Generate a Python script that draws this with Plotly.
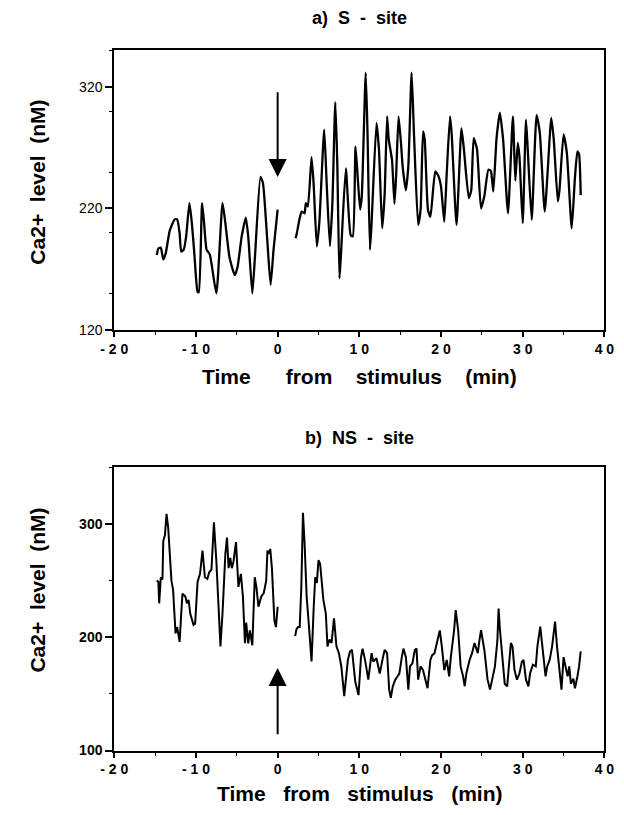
import plotly.graph_objects as go

# ---------------- data ----------------
# Panel a) S - site, before stimulus
a_pre_t = [-14.8, -14.6, -14.3, -14.0, -13.7, -13.2, -12.6, -12.3, -12.0, -11.8, -11.5, -11.2,
           -10.8, -10.5, -10.2, -9.8, -9.65, -9.25, -9.0, -8.7, -8.3, -7.5, -6.75, -6.4, -5.9,
           -5.25, -4.9, -4.4, -3.9, -3.6, -3.1, -2.75, -2.1, -1.8, -1.3, -0.86, -0.5, 0.0]
a_pre_ca = [181.7, 187, 187.6, 178, 183, 202, 211, 211, 199.6, 184.5, 186, 197,
            224.4, 208, 183, 151.4, 151, 224.4, 208, 186, 182, 150, 224.4, 208, 180,
            165, 172, 197, 212.5, 197, 150, 183, 246, 241, 197, 157, 186, 219]
# Panel a) S - site, after stimulus
a_post_t = [2.2, 2.35, 2.7, 2.95, 3.3, 3.45, 3.7, 4.15, 4.4, 4.8, 5.1, 5.7, 6.0, 6.4, 6.7,
            7.06, 7.3, 7.57, 7.76, 8.35, 8.94, 9.2, 9.53, 9.8, 10.1, 10.3, 10.78, 11.0, 11.3,
            11.5, 12.1, 12.4, 12.8, 13.1, 13.4, 13.6, 14.0, 14.3, 14.5, 14.8, 15.1, 15.3, 15.7,
            16.0, 16.4, 16.7, 17.2, 17.5, 17.8, 18.0, 18.4, 18.7, 19.3, 19.7, 20.0, 20.4, 20.7,
            21.1, 21.3, 21.9, 22.5, 22.8, 23.4, 23.7, 24.0, 24.4, 24.9, 25.3, 25.8, 26.1, 26.4,
            26.8, 27.2, 27.6, 28.2, 28.8, 29.1, 29.4, 29.6, 30.0, 30.4, 30.6, 31.1, 31.7, 32.1,
            32.7, 33.5, 33.8, 34.3, 34.5, 35.0, 35.4, 36.0, 36.4, 36.7, 36.9, 37.1]
a_post_ca = [195.5, 199.6, 212, 217.5, 216, 224.4, 221.6, 262.4, 241, 188.6, 208, 285, 241, 189, 224,
             307.6, 257.6, 162.4, 183, 253, 198, 197, 271, 246, 219, 230, 332, 283, 186,
             208, 290.5, 269, 203.7, 232, 296, 277, 260, 224, 246, 296, 274, 255, 235,
             255, 332, 280, 206.5, 219, 283.6, 277, 219, 213, 250.6, 246.5, 238, 209, 249,
             296, 282, 206.5, 286, 269, 228.5, 235, 278, 269, 220, 230, 252, 251, 234,
             278, 299, 277, 216, 296, 243, 274, 263, 208, 293, 271, 210.6, 297, 282,
             217.5, 294.6, 277, 225.8, 235, 281, 266, 203.7, 246, 267, 264.6, 231]

# Panel b) NS - site, before stimulus
b_pre_t = [-14.8, -14.6, -14.5, -14.3, -14.1, -14.0, -13.8, -13.6, -13.4, -13.0, -12.8, -12.5,
           -12.3, -12.0, -11.8, -11.65, -11.3, -11.1, -10.9, -10.7, -10.3, -10.1, -9.8, -9.5,
           -9.2, -8.9, -8.6, -8.4, -8.1, -7.8, -7.5, -7.0, -6.75, -6.4, -6.2, -6.0, -5.8, -5.6,
           -5.4, -5.1, -4.8, -4.5, -4.25, -4.0, -3.85, -3.6, -3.4, -3.1, -2.8, -2.6, -2.35,
           -2.0, -1.7, -1.4, -1.25, -1.1, -0.9, -0.7, -0.4, -0.2, 0.0]
b_pre_ca = [250, 249, 230, 253, 251, 285, 290, 309, 297, 250, 242, 203.5,
            209, 196, 221, 238.6, 236, 230, 233, 221, 211, 212, 249, 256,
            276.6, 253, 251.5, 257, 260, 301.5, 267, 192, 221, 273.7, 288, 261, 270, 261,
            267, 284, 244.5, 256, 236, 194.7, 213, 194.7, 206, 193, 253, 244.5, 227,
            236, 239, 250, 276.6, 273.7, 278, 261, 215, 209, 227]
# Panel b) NS - site, after stimulus
b_post_t = [2.15, 2.3, 2.5, 2.7, 2.9, 3.1, 3.3, 3.55, 3.8, 4.15, 4.4, 4.6, 4.8, 5.0, 5.2, 5.6,
            5.9, 6.1, 6.35, 6.6, 6.9, 7.2, 7.5, 7.8, 8.15, 8.6, 8.86, 9.1, 9.5, 9.9, 10.2,
            10.4, 10.7, 11.1, 11.5, 11.7, 12.1, 12.5, 12.9, 13.1, 13.4, 13.65, 13.85, 14.1,
            14.4, 14.9, 15.2, 15.4, 15.7, 16.0, 16.2, 16.5, 16.8, 17.0, 17.2, 17.5, 17.8,
            18.0, 18.35, 18.7, 18.9, 19.2, 19.5, 19.85, 20.1, 20.4, 20.7, 21.0, 21.2, 21.6,
            21.8, 22.1, 22.4, 22.7, 22.9, 23.1, 23.5, 23.8, 24.1, 24.5, 24.7, 24.9, 25.3,
            25.7, 26.0, 26.3, 26.6, 26.9, 27.05, 27.2, 27.5, 27.8, 28.1, 28.4, 28.55, 28.75,
            29.0, 29.3, 29.6, 29.9, 30.1, 30.4, 30.7, 30.9, 31.25, 31.6, 31.8, 32.15, 32.5,
            32.8, 33.0, 33.3, 33.6, 33.96, 34.2, 34.5, 34.75, 35.0, 35.2, 35.5, 35.7, 35.9,
            36.2, 36.4, 36.7, 36.9, 37.1]
b_post_ca = [201, 207, 209, 209, 244.5, 310, 283, 236, 213, 178.7, 224, 253, 248, 268, 265, 233,
             221, 192, 198, 195, 216.7, 192, 186, 174, 148, 180, 187.4, 189, 161, 149, 182,
             190, 180, 162.6, 186, 178.5, 181.5, 168, 182.5, 188.9, 186, 153.8, 146.5, 156.7,
             162.6, 168, 182.5, 190, 182.5, 153.8, 174.3, 177, 189, 190, 162.6, 174.3, 171,
             165.5, 155, 180, 184, 186, 195, 206, 192, 171, 180, 165.5, 182.5, 206,
             224, 206, 174.3, 165.5, 156.8, 168, 180, 186, 195, 186, 197, 206.4, 189,
             162.6, 153.8, 165.5, 174.3, 197, 225.4, 208, 180, 159, 156.7, 180, 195, 192,
             171, 162.6, 168, 178.5, 180, 162.6, 156.7, 168, 175.8, 174.3, 192, 209.4, 186,
             165.5, 174.3, 180, 192, 213.8, 192, 171, 153.8, 182.5, 174.3, 165.5, 174.3, 159,
             163.5, 155, 165.5, 174.3, 187.5]

x_tickvals = [-20, -10, 0, 10, 20, 30, 40]
x_ticktext = ["- 2 0", "- 1 0", "0", "1 0", "2 0", "3 0", "4 0"]
a_yticks = [120, 220, 320]
b_yticks = [100, 200, 300]

# stimulus arrows (time, tail level, head level)
a_arrow = (0, 317, 246)
b_arrow = (0, 113, 173)

# ---------------- figure ----------------
FONT = "Liberation Sans, Arial, Helvetica, sans-serif"
PAGE_MARGIN = 8          # default body margin of the html page
W, H = 624 - PAGE_MARGIN, 815 - PAGE_MARGIN

def px_x(p):             # screen pixel -> paper fraction
    return (p - PAGE_MARGIN) / W

def px_y(p):
    return 1 - (p - PAGE_MARGIN) / H

fig = go.Figure()
line_a = dict(color="black", width=2.3, shape="spline", smoothing=0.5)
line_b = dict(color="black", width=2.0)
fig.add_trace(go.Scatter(x=a_pre_t, y=a_pre_ca, mode="lines", line=line_a, xaxis="x", yaxis="y", showlegend=False))
fig.add_trace(go.Scatter(x=a_post_t, y=a_post_ca, mode="lines", line=line_a, xaxis="x", yaxis="y", showlegend=False))
fig.add_trace(go.Scatter(x=b_pre_t, y=b_pre_ca, mode="lines", line=line_b, xaxis="x2", yaxis="y2", showlegend=False))
fig.add_trace(go.Scatter(x=b_post_t, y=b_post_ca, mode="lines", line=line_b, xaxis="x2", yaxis="y2", showlegend=False))

xdom = [px_x(104), px_x(614)]
common_x = dict(range=[-20, 40], tickvals=x_tickvals, ticktext=x_ticktext, ticks="outside",
                ticklen=5, tickwidth=1.5, tickcolor="black", showline=True, linecolor="black",
                linewidth=2, mirror=True, showgrid=False, zeroline=False,
                tickfont=dict(family=FONT, size=14, color="black", weight="bold"),
                minor=dict(dtick=5, tick0=0, ticks="outside", ticklen=3, tickcolor="black", tickwidth=1.2))
common_y = dict(ticks="outside", ticklen=7, tickwidth=1.5, tickcolor="black", showline=True,
                linecolor="black", linewidth=2, mirror=True, showgrid=False, zeroline=False,
                minor=dict(dtick=50, ticks="outside", ticklen=3, tickcolor="black", tickwidth=1.2))

fig.update_layout(
    width=W, height=H, margin=dict(l=0, r=0, t=0, b=0),
    paper_bgcolor="white", plot_bgcolor="white",
    xaxis=dict(domain=xdom, anchor="y", **common_x),
    yaxis=dict(domain=[px_y(333), px_y(50)], anchor="x", range=[120, 351], tickvals=a_yticks,
               tickfont=dict(family=FONT, size=14, color="black"), **common_y),
    xaxis2=dict(domain=xdom, anchor="y2", **common_x),
    yaxis2=dict(domain=[px_y(758), px_y(472)], anchor="x2", range=[100, 350], tickvals=b_yticks,
                tickfont=dict(family=FONT, size=14, color="black", weight="bold"), **common_y),
)

sp = "\u00a0"
ann = []
xc = (px_x(104) + px_x(614)) / 2
title_font = dict(family=FONT, size=18, color="black", weight="bold")
ann.append(dict(text=f"a){sp}{sp}S{sp}{sp}-{sp}{sp}site", x=xc, y=px_y(18), xref="paper", yref="paper",
                showarrow=False, font=title_font, xanchor="center", yanchor="middle"))
ann.append(dict(text=f"b){sp}{sp}NS{sp}{sp}-{sp}{sp}site", x=xc, y=px_y(442), xref="paper", yref="paper",
                showarrow=False, font=title_font, xanchor="center", yanchor="middle"))
axis_font = dict(family=FONT, size=21, color="black", weight="bold")
ann.append(dict(text=f"Time{sp*6}from{sp*4}stimulus{sp*4}(min)", x=xc, y=px_y(380), xref="paper", yref="paper",
                showarrow=False, font=axis_font, xanchor="center", yanchor="middle"))
ann.append(dict(text=f"Time{sp*3}from{sp*3}stimulus{sp*3}(min)", x=xc, y=px_y(801), xref="paper", yref="paper",
                showarrow=False, font=axis_font, xanchor="center", yanchor="middle"))
ann.append(dict(text=f"Ca2+{sp*2}level{sp*2}(nM)", x=px_x(24), y=px_y(184), xref="paper", yref="paper",
                showarrow=False, font=axis_font, textangle=-90, xanchor="center", yanchor="middle"))
ann.append(dict(text=f"Ca2+{sp*2}level{sp*2}(nM)", x=px_x(24), y=px_y(596), xref="paper", yref="paper",
                showarrow=False, font=axis_font, textangle=-90, xanchor="center", yanchor="middle"))
# stimulus arrows
ann.append(dict(x=a_arrow[0], y=a_arrow[2], ax=a_arrow[0], ay=a_arrow[1], xref="x", yref="y", axref="x", ayref="y",
                text="", showarrow=True, arrowhead=2, arrowsize=1.8, arrowwidth=2, arrowcolor="black"))
ann.append(dict(x=b_arrow[0], y=b_arrow[2], ax=b_arrow[0], ay=b_arrow[1], xref="x2", yref="y2", axref="x2", ayref="y2",
                text="", showarrow=True, arrowhead=2, arrowsize=1.8, arrowwidth=2, arrowcolor="black"))
fig.update_layout(annotations=ann)

fig.write_html("out.html")
